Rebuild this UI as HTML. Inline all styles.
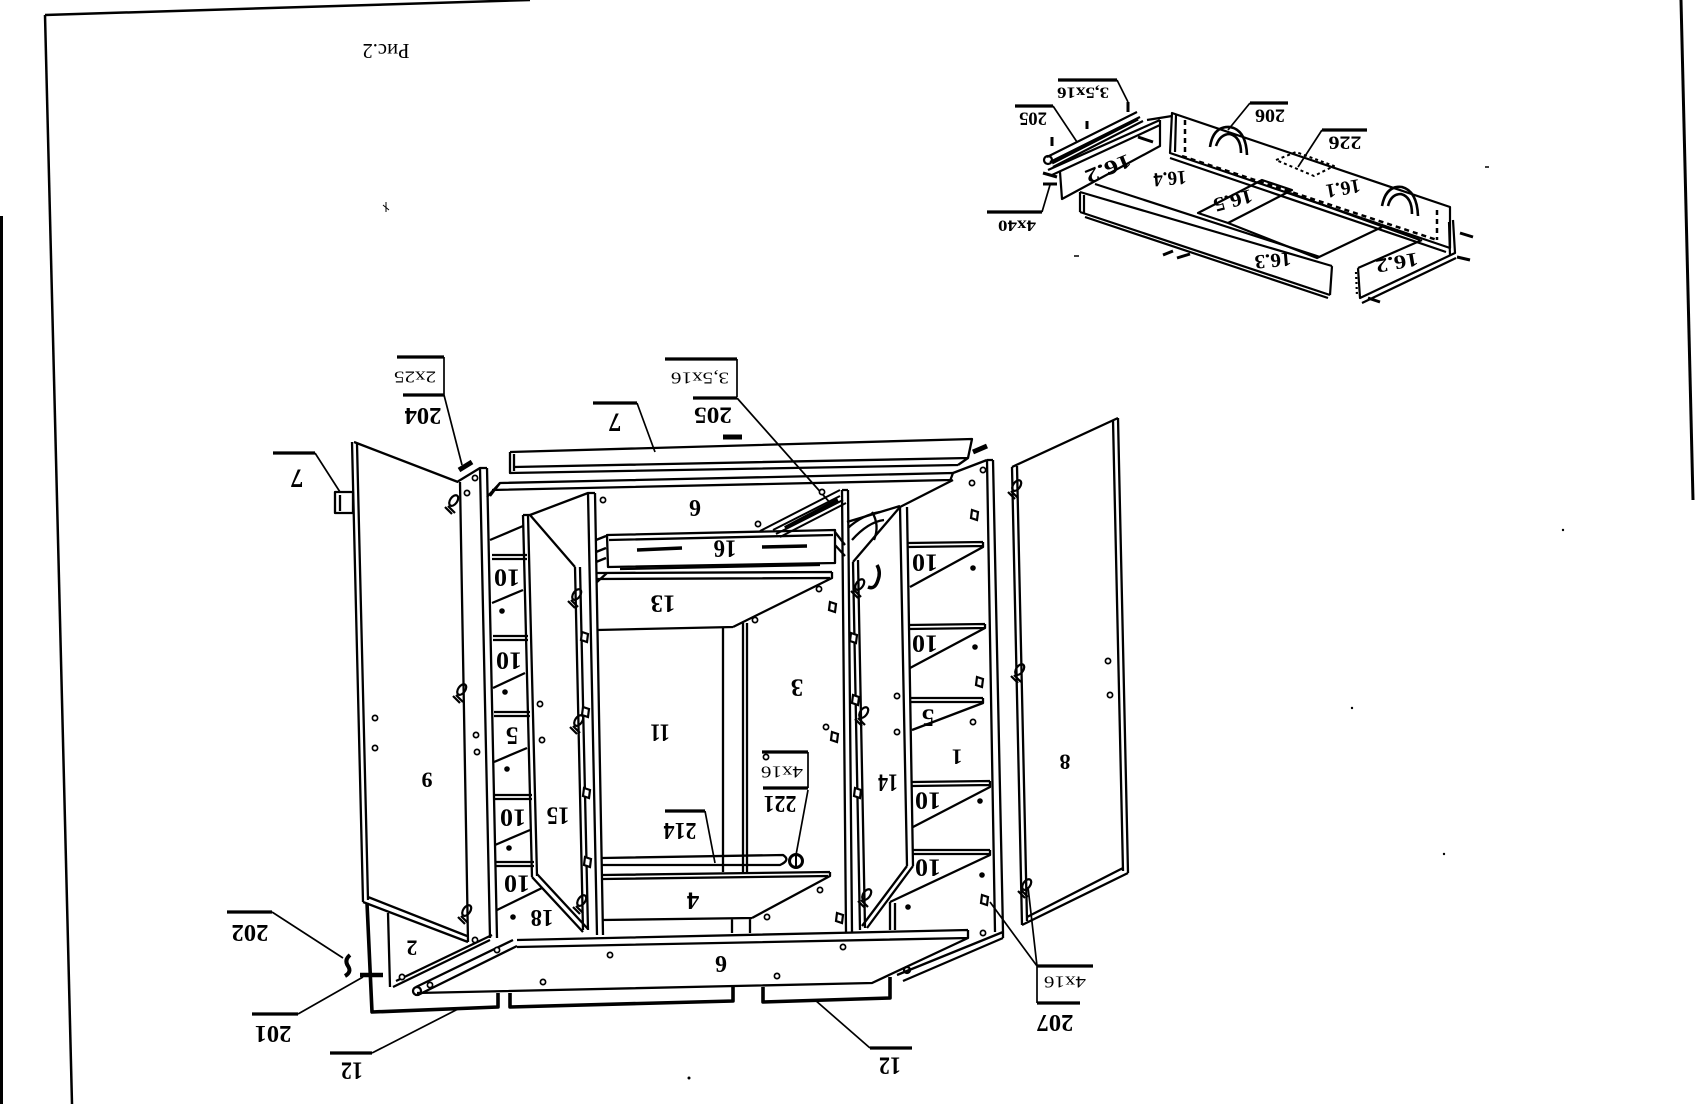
<!DOCTYPE html>
<html><head><meta charset="utf-8"><style>
html,body{margin:0;padding:0;background:#fff;}
svg{display:block;}
text{font-family:"Liberation Serif",serif;fill:#000;stroke:none;text-anchor:middle;dominant-baseline:central;}
.b{font-weight:bold;}
</style></head><body>
<svg width="1696" height="1104" viewBox="0 0 1696 1104" xmlns="http://www.w3.org/2000/svg">
<defs>
<g id="hg" fill="none" stroke="#000" stroke-width="2.2"><ellipse cx="0" cy="-3" rx="3.5" ry="6" transform="rotate(35)"/><path d="M-4 3 L3 10 M-7 4 L0 11"/></g>
<g id="hp" fill="#fff" stroke="#000" stroke-width="2.2"><path d="M-3 -5 L3 -3 L2 5 L-4 3 Z"/></g>
</defs>
<rect width="1696" height="1104" fill="#fff"/>
<!-- frame -->
<g stroke="#000" fill="none">
<path d="M45 15 L530 0" stroke-width="2.5"/>
<path d="M45 15 L72 1104" stroke-width="2.5"/>
<path d="M1681 0 L1693 500" stroke-width="3"/>
</g>
<rect x="0" y="216" width="3" height="888" fill="#000"/>
<path d="M383 205 L389 210 M386 202 L386 212" stroke="#000" stroke-width="1"/>

<!-- ============ MAIN CABINET ============ -->
<g stroke="#000" fill="none" stroke-width="2.3" stroke-linejoin="round">
<!-- door 9 -->
<path d="M352 442 L363 902 M357 444 L368 900 M354 442 L458 482 M460 482 L468 942 M363 902 L468 942 M368 897 L467 936"/>
<!-- left side panel front strip -->
<path d="M480 468 L490 938 M487 468 L497 938 M457 482 L480 468 L487 468 M487 497 L500 483"/>
<!-- left bracket 7 -->
<path d="M335 492 L353 492 L353 513 L335 513 Z M340 495 L340 511"/>
<!-- part 2 & strips -->
<path d="M388 913 L390 987 M393 987 L490 940 M396 981 L492 935 M418 995 L517 946 M416 987 L513 940"/>
<circle cx="417" cy="991" r="4"/>
<!-- plinths bold -->
<path d="M367 903 L372 1012 L498 1007 L498 993 M510 993 L510 1007 L733 1001 L733 987 M763 987 L763 1002 L890 998 L890 977" stroke-width="3.6"/>
<!-- bottom board 6 -->
<path d="M517 940 L968 930 M517 947 L968 938 M968 930 L968 938 L872 983 L417 993"/>
<!-- right strips -->
<path d="M897 975 L1003 932 M903 981 L1003 938 M1003 932 L1003 938"/>
<circle cx="907" cy="970" r="3"/>
<!-- right side panel -->
<path d="M987 460 L995 932 M993 460 L1003 932 M987 460 L993 460 M953 473 L987 460"/>
<!-- door 8 -->
<path d="M1118 418 L1128 873 M1113 420 L1123 871 M1118 418 L1012 467 M1012 467 L1022 925 M1017 466 L1027 921 M1128 873 L1022 925 M1123 868 L1027 917"/>
<!-- beam 7 -->
<path d="M510 452 L972 439 L968 458 L958 465 M510 452 L510 473 L958 465 M514 467 L968 458 M514 454 L514 471"/>
<!-- top board -->
<path d="M490 496 L500 483 L953 473 L950 481 M492 490 L950 480"/>
<!-- interior tops -->
<path d="M490 540 L523 526 M530 515 L588 493 L595 493 M847 522 L900 506 M900 507 L953 480 M842 490 L848 490"/>
<!-- left compartment shelves -->
<path d="M492 555 L527 555 M492 559 L527 559 M492 603 L523 590
M493 636 L528 636 M493 640 L528 640 M493 688 L525 673
M494 712 L530 712 M494 716 L530 716 M494 762 L527 748
M495 795 L532 795 M495 799 L532 799 M495 845 L530 830
M496 862 L534 862 M496 866 L534 866 M497 910 L542 888"/>
<!-- door 15 -->
<path d="M523 515 L532 877 M528 515 L537 876 M523 515 L530 515 L575 567 M575 567 L583 930 M580 567 L588 930 M532 877 L583 932 M537 874 L588 929"/>
<!-- left partition -->
<path d="M588 493 L597 935 M595 493 L603 935"/>
<!-- drawer 16 -->
<path d="M607 535 L835 530 L835 563 L608 567 Z M609 540 L833 535 M596 540 L606 536 M596 552 L606 548 M596 562 L606 558 M835 532 L845 545 M835 545 L845 556"/>
<path d="M637 550 L682 548 M762 547 L807 546" stroke-width="3.6"/>
<!-- rail -->
<path d="M773 530 L840 496 M776 534 L843 500 M780 537 L846 503 M760 531 L840 490" stroke-width="2"/>
<path d="M785 528 L838 500" stroke-width="4"/>
<!-- shelf 13 -->
<path d="M597 573 L832 572 M597 579 L830 578 M832 572 L832 578 L733 627 M597 630 L733 627 M597 582 L607 573 M620 569 L820 565"/>
<!-- back post -->
<path d="M723 628 L723 872 M743 623 L743 872 M747 623 L747 872"/>
<!-- right partition -->
<path d="M842 490 L846 932 M848 490 L852 932"/>
<!-- door 14 -->
<path d="M853 562 L860 930 M858 560 L865 928 M853 562 L900 507 M900 507 L907 866 M907 507 L913 866 M913 866 L867 928 M907 866 L862 926"/>
<!-- curved rail end near door 14 -->
<path d="M848 528 Q862 515 880 512 M852 540 Q868 522 884 520 M872 512 Q880 525 874 540"/>
<!-- right compartment shelves -->
<path d="M908 543 L983 542 M908 547 L983 546 M983 542 L983 547 L910 587
M908 625 L985 624 M908 629 L985 628 M985 624 L985 628 L910 668
M910 698 L983 698 M910 702 L983 702 M983 698 L983 703 L912 730
M912 782 L990 781 M912 786 L990 785 M990 781 L990 787 L913 827
M913 850 L990 850 M913 854 L990 854 M990 850 L990 855 L890 902
M890 902 L890 930 M895 903 L895 930"/>
<!-- shelf 214 -->
<path d="M602 858 L783 855 Q791 860 780 865 L602 865"/>
<!-- shelf 4 -->
<path d="M602 875 L830 872 M603 879 L828 876 M830 872 L830 876 L752 918 M602 920 L752 918 M732 918 L732 933 M750 918 L750 933"/>
<!-- screw 221 -->
<circle cx="796" cy="861" r="6.5" stroke-width="3"/>
<path d="M796 855 L796 867" stroke-width="2"/>
<!-- small hooks -->
<path d="M877 565 Q881 572 878 580 Q875 590 868 587" stroke-width="3.5"/>
<path d="M350 955 Q344 960 348 966 Q352 972 345 976" stroke-width="4"/>
<path d="M360 975 L383 975" stroke-width="4.5"/>
<path d="M459 470 L472 462" stroke-width="5"/>
<path d="M723 437 L742 437" stroke-width="5"/>
<path d="M973 452 L987 446" stroke-width="5"/>

<!-- labels leaders -->
<path d="M397 357 L444 357 M403 395 L444 395 M273 453 L315 453 M593 403 L637 403 M665 359 L737 359 M693 398 L737 398 M762 752 L808 752 M763 788 L808 788 M665 811 L705 811 M227 912 L272 912 M252 1014 L298 1014 M330 1053 L372 1053 M870 1048 L912 1048 M1037 966 L1093 966 M1037 1003 L1080 1003" stroke-width="3.2"/>
<path d="M444 357 L444 395 M444 395 L462 465 M315 453 L340 492 M637 403 L655 452 M737 359 L737 397 M737 398 L832 505 M808 752 L808 788 M808 790 L796 855 M705 811 L715 863 M272 912 L343 958 M298 1014 L363 977 M372 1053 L460 1008 M870 1048 L815 1000 M1037 966 L1037 1003 M1037 966 L990 902 M1037 966 L1028 887" stroke-width="1.7"/>
</g>

<!-- dots main -->
<g fill="#000">
<circle cx="502" cy="611" r="2.8"/><circle cx="505" cy="692" r="2.8"/><circle cx="507" cy="769" r="2.8"/><circle cx="509" cy="848" r="2.8"/><circle cx="513" cy="917" r="2.8"/>
<circle cx="973" cy="568" r="2.8"/><circle cx="975" cy="647" r="2.8"/><circle cx="980" cy="801" r="2.8"/><circle cx="982" cy="875" r="2.8"/><circle cx="908" cy="907" r="2.8"/>
<circle cx="689" cy="1078" r="1.5"/><circle cx="1352" cy="708" r="1.2"/><circle cx="1444" cy="854" r="1.2"/><circle cx="1563" cy="530" r="1.2"/>
</g>
<g fill="#fff" stroke="#000" stroke-width="1.7">
<circle cx="375" cy="718" r="2.6"/><circle cx="375" cy="748" r="2.6"/>
<circle cx="467" cy="493" r="2.6"/><circle cx="475" cy="478" r="2.6"/><circle cx="476" cy="735" r="2.6"/><circle cx="477" cy="752" r="2.6"/>
<circle cx="402" cy="977" r="2.6"/><circle cx="475" cy="940" r="2.6"/><circle cx="430" cy="985" r="2.6"/><circle cx="497" cy="950" r="2.6"/>
<circle cx="610" cy="955" r="2.6"/><circle cx="543" cy="982" r="2.6"/><circle cx="843" cy="947" r="2.6"/><circle cx="777" cy="976" r="2.6"/>
<circle cx="1108" cy="661" r="2.6"/><circle cx="1110" cy="695" r="2.6"/>
<circle cx="983" cy="470" r="2.6"/><circle cx="972" cy="483" r="2.6"/><circle cx="973" cy="722" r="2.6"/><circle cx="983" cy="933" r="2.6"/>
<circle cx="603" cy="500" r="2.6"/><circle cx="758" cy="524" r="2.6"/><circle cx="822" cy="492" r="2.6"/>
<circle cx="819" cy="589" r="2.6"/><circle cx="755" cy="620" r="2.6"/><circle cx="826" cy="727" r="2.6"/>
<circle cx="820" cy="890" r="2.6"/><circle cx="767" cy="917" r="2.6"/>
<circle cx="540" cy="704" r="2.6"/><circle cx="542" cy="740" r="2.6"/><circle cx="897" cy="696" r="2.6"/><circle cx="897" cy="732" r="2.6"/>
<circle cx="766" cy="757" r="2.6"/>
</g>
<!-- hinges -->
<use href="#hg" x="452" y="503"/><use href="#hg" x="460" y="692"/><use href="#hg" x="465" y="913"/>
<use href="#hg" x="1015" y="488"/><use href="#hg" x="1018" y="672"/><use href="#hg" x="1025" y="887"/>
<use href="#hg" x="575" y="597"/><use href="#hg" x="577" y="723"/><use href="#hg" x="580" y="903"/>
<use href="#hg" x="858" y="587"/><use href="#hg" x="862" y="715"/><use href="#hg" x="865" y="897"/>
<use href="#hp" x="975" y="515"/><use href="#hp" x="980" y="682"/><use href="#hp" x="985" y="900"/>
<use href="#hp" x="833" y="607"/><use href="#hp" x="835" y="737"/><use href="#hp" x="840" y="918"/>
<use href="#hp" x="585" y="637"/><use href="#hp" x="586" y="712"/><use href="#hp" x="587" y="793"/><use href="#hp" x="588" y="862"/>
<use href="#hp" x="854" y="638"/><use href="#hp" x="856" y="700"/><use href="#hp" x="858" y="793"/>

<!-- main texts -->
<g>
<text x="386" y="51" font-size="21" transform="rotate(180 386 51)" textLength="47" lengthAdjust="spacingAndGlyphs">Рис.2</text>
<text x="415" y="377" font-size="17" transform="rotate(180 415 377)" textLength="42" lengthAdjust="spacingAndGlyphs">2x25</text>
<text class="b" x="423" y="415" font-size="24" transform="rotate(180 423 415)" textLength="37" lengthAdjust="spacingAndGlyphs">204</text>
<text class="b" x="297" y="478" font-size="26" transform="rotate(180 297 478)">7</text>
<text class="b" x="615" y="422" font-size="26" transform="rotate(180 615 422)">7</text>
<text x="700" y="378" font-size="17" transform="rotate(180 700 378)" textLength="58" lengthAdjust="spacingAndGlyphs">3,5x16</text>
<text class="b" x="713" y="415" font-size="23" transform="rotate(180 713 415)" textLength="38" lengthAdjust="spacingAndGlyphs">205</text>
<text class="b" x="695" y="507" font-size="24" transform="rotate(180 695 507)">6</text>
<text class="b" x="725" y="548" font-size="25" transform="rotate(180 725 548)" textLength="23" lengthAdjust="spacingAndGlyphs">16</text>
<text class="b" x="663" y="603" font-size="25" transform="rotate(180 663 603)" textLength="25" lengthAdjust="spacingAndGlyphs">13</text>
<text class="b" x="660" y="732" font-size="25" transform="rotate(180 660 732)" textLength="20" lengthAdjust="spacingAndGlyphs">11</text>
<text class="b" x="797" y="687" font-size="25" transform="rotate(180 797 687)">3</text>
<text x="782" y="772" font-size="17" transform="rotate(180 782 772)" textLength="42" lengthAdjust="spacingAndGlyphs">4x16</text>
<text class="b" x="780" y="803" font-size="24" transform="rotate(180 780 803)" textLength="33" lengthAdjust="spacingAndGlyphs">221</text>
<text class="b" x="680" y="830" font-size="24" transform="rotate(180 680 830)" textLength="33" lengthAdjust="spacingAndGlyphs">214</text>
<text class="b" x="693" y="900" font-size="25" transform="rotate(180 693 900)">4</text>
<text class="b" x="558" y="815" font-size="25" transform="rotate(180 558 815)" textLength="23" lengthAdjust="spacingAndGlyphs">15</text>
<text class="b" x="888" y="782" font-size="25" transform="rotate(180 888 782)" textLength="20" lengthAdjust="spacingAndGlyphs">14</text>
<text class="b" x="957" y="757" font-size="22" transform="rotate(180 957 757)">1</text>
<text class="b" x="1065" y="762" font-size="22" transform="rotate(180 1065 762)">8</text>
<text class="b" x="427" y="780" font-size="22" transform="rotate(180 427 780)">9</text>
<text class="b" x="412" y="948" font-size="22" transform="rotate(180 412 948)">2</text>
<text class="b" x="542" y="917" font-size="24" transform="rotate(180 542 917)" textLength="23" lengthAdjust="spacingAndGlyphs">18</text>
<text class="b" x="507" y="577" font-size="25" transform="rotate(180 507 577)" textLength="26" lengthAdjust="spacingAndGlyphs">10</text>
<text class="b" x="509" y="660" font-size="25" transform="rotate(180 509 660)" textLength="26" lengthAdjust="spacingAndGlyphs">10</text>
<text class="b" x="512" y="735" font-size="25" transform="rotate(180 512 735)">5</text>
<text class="b" x="513" y="817" font-size="25" transform="rotate(180 513 817)" textLength="26" lengthAdjust="spacingAndGlyphs">10</text>
<text class="b" x="517" y="883" font-size="25" transform="rotate(180 517 883)" textLength="26" lengthAdjust="spacingAndGlyphs">10</text>
<text class="b" x="925" y="562" font-size="25" transform="rotate(180 925 562)" textLength="26" lengthAdjust="spacingAndGlyphs">10</text>
<text class="b" x="925" y="643" font-size="25" transform="rotate(180 925 643)" textLength="26" lengthAdjust="spacingAndGlyphs">10</text>
<text class="b" x="928" y="717" font-size="25" transform="rotate(180 928 717)">5</text>
<text class="b" x="928" y="800" font-size="25" transform="rotate(180 928 800)" textLength="26" lengthAdjust="spacingAndGlyphs">10</text>
<text class="b" x="928" y="867" font-size="25" transform="rotate(180 928 867)" textLength="26" lengthAdjust="spacingAndGlyphs">10</text>
<text class="b" x="721" y="963" font-size="24" transform="rotate(180 721 963)">6</text>
<text class="b" x="250" y="932" font-size="24" transform="rotate(180 250 932)" textLength="37" lengthAdjust="spacingAndGlyphs">202</text>
<text class="b" x="273" y="1033" font-size="24" transform="rotate(180 273 1033)" textLength="37" lengthAdjust="spacingAndGlyphs">201</text>
<text class="b" x="352" y="1070" font-size="25" transform="rotate(180 352 1070)" textLength="22" lengthAdjust="spacingAndGlyphs">12</text>
<text class="b" x="890" y="1065" font-size="25" transform="rotate(180 890 1065)" textLength="22" lengthAdjust="spacingAndGlyphs">12</text>
<text x="1065" y="982" font-size="17" transform="rotate(180 1065 982)" textLength="42" lengthAdjust="spacingAndGlyphs">4x16</text>
<text class="b" x="1055" y="1022" font-size="24" transform="rotate(180 1055 1022)" textLength="37" lengthAdjust="spacingAndGlyphs">207</text>
</g>

<!-- ============ TOP-RIGHT SUBASSEMBLY ============ -->
<g stroke="#000" fill="none" stroke-width="2.2" stroke-linejoin="round">
<!-- label bars -->
<path d="M1058 80 L1117 80 M1015 106 L1053 106 M1250 103 L1288 103 M1322 130 L1367 130 M987 212 L1042 212" stroke-width="3.2"/>
<path d="M1117 80 L1128 102 M1053 106 L1077 142 M1250 103 L1228 130 M1322 130 L1298 167 M1042 212 L1050 185" stroke-width="1.7"/>
<!-- rail 205 -->
<path d="M1047 157 L1137 112 M1050 162 L1140 117 M1053 167 L1143 121"/>
<path d="M1052 163 L1138 119" stroke-width="3"/>
<circle cx="1048" cy="160" r="4"/>
<path d="M1052 137 L1052 146 M1087 121 L1087 129 M1128 102 L1128 112" stroke-width="3"/>
<!-- 16.2 left -->
<path d="M1048 170 L1160 120 M1052 175 L1160 125 M1060 172 L1062 199 L1160 146 L1160 120 M1147 120 L1172 116"/>
<!-- 16.3 -->
<path d="M1080 192 L1332 266 M1080 212 L1330 295 M1080 192 L1080 212 M1084 195 L1084 214 M1332 266 L1330 295 M1085 217 L1328 298"/>
<path d="M1095 184 L1320 257"/>
<!-- 16.1 -->
<path d="M1172 113 L1450 207 L1450 248 L1170 153 Z M1176 115 L1175 152 M1170 158 L1446 252"/>
<path d="M1182 156 L1437 240 M1185 120 L1185 152 M1437 210 L1437 240" stroke-dasharray="5 4" stroke-width="2.5"/>
<path d="M1276 160 L1296 152 L1334 166 L1314 176 Z" stroke-dasharray="3 3" stroke-width="2"/>
<!-- handles 206 -->
<path d="M1210 147 Q1213 126 1230 127 Q1246 130 1247 155 M1216 146 Q1220 134 1230 134 Q1241 137 1241 153" stroke-width="2.6"/>
<path d="M1382 206 Q1386 185 1402 187 Q1417 191 1418 216 M1388 206 Q1391 194 1401 194 Q1412 197 1412 214" stroke-width="2.6"/>
<!-- 16.5 -->
<path d="M1198 213 L1228 223 L1292 190 L1262 180 Z"/>
<!-- bottom panel lines -->
<path d="M1228 223 L1317 258 L1382 227 M1290 193 L1420 240"/>
<!-- 16.2 right -->
<path d="M1358 268 L1422 240 M1358 268 L1360 298 L1455 253 L1453 220 M1362 303 L1456 258 M1449 222 L1450 256"/>
<path d="M1356 272 L1357 296" stroke-dasharray="2 3"/>
<!-- screws -->
<path d="M1460 233 L1473 237 M1457 257 L1470 260 M1368 298 L1380 302 M1163 255 L1173 251 M1177 258 L1190 254 M1043 173 L1057 177 M1043 184 L1057 184 M1138 137 L1153 142" stroke-width="3"/>
<path d="M1074 256 L1079 256 M1485 167 L1489 167" stroke-width="1.5"/>
</g>
<g>
<text x="1083" y="92" font-size="16" class="b" transform="rotate(180 1083 92)" textLength="52" lengthAdjust="spacingAndGlyphs">3,5x16</text>
<text class="b" x="1033" y="118" font-size="19" transform="rotate(180 1033 118)" textLength="28" lengthAdjust="spacingAndGlyphs">205</text>
<text class="b" x="1270" y="115" font-size="19" transform="rotate(180 1270 115)" textLength="30" lengthAdjust="spacingAndGlyphs">206</text>
<text class="b" x="1345" y="142" font-size="19" transform="rotate(180 1345 142)" textLength="33" lengthAdjust="spacingAndGlyphs">226</text>
<text class="b" x="1017" y="225" font-size="16" transform="rotate(180 1017 225)" textLength="38" lengthAdjust="spacingAndGlyphs">4x40</text>
<text class="b" x="1108" y="168" font-size="20" transform="rotate(158 1108 168)" textLength="48" lengthAdjust="spacingAndGlyphs">16.2</text>
<text class="b" x="1170" y="178" font-size="20" transform="rotate(175 1170 178)" textLength="33" lengthAdjust="spacingAndGlyphs">16.4</text>
<text class="b" x="1233" y="200" font-size="20" transform="rotate(165 1233 200)" textLength="40" lengthAdjust="spacingAndGlyphs">16.5</text>
<text class="b" x="1343" y="188" font-size="20" transform="rotate(170 1343 188)" textLength="35" lengthAdjust="spacingAndGlyphs">16.1</text>
<text class="b" x="1273" y="260" font-size="20" transform="rotate(175 1273 260)" textLength="37" lengthAdjust="spacingAndGlyphs">16.3</text>
<text class="b" x="1397" y="262" font-size="20" transform="rotate(170 1397 262)" textLength="43" lengthAdjust="spacingAndGlyphs">16.2</text>
</g>
</svg>
</body></html>
